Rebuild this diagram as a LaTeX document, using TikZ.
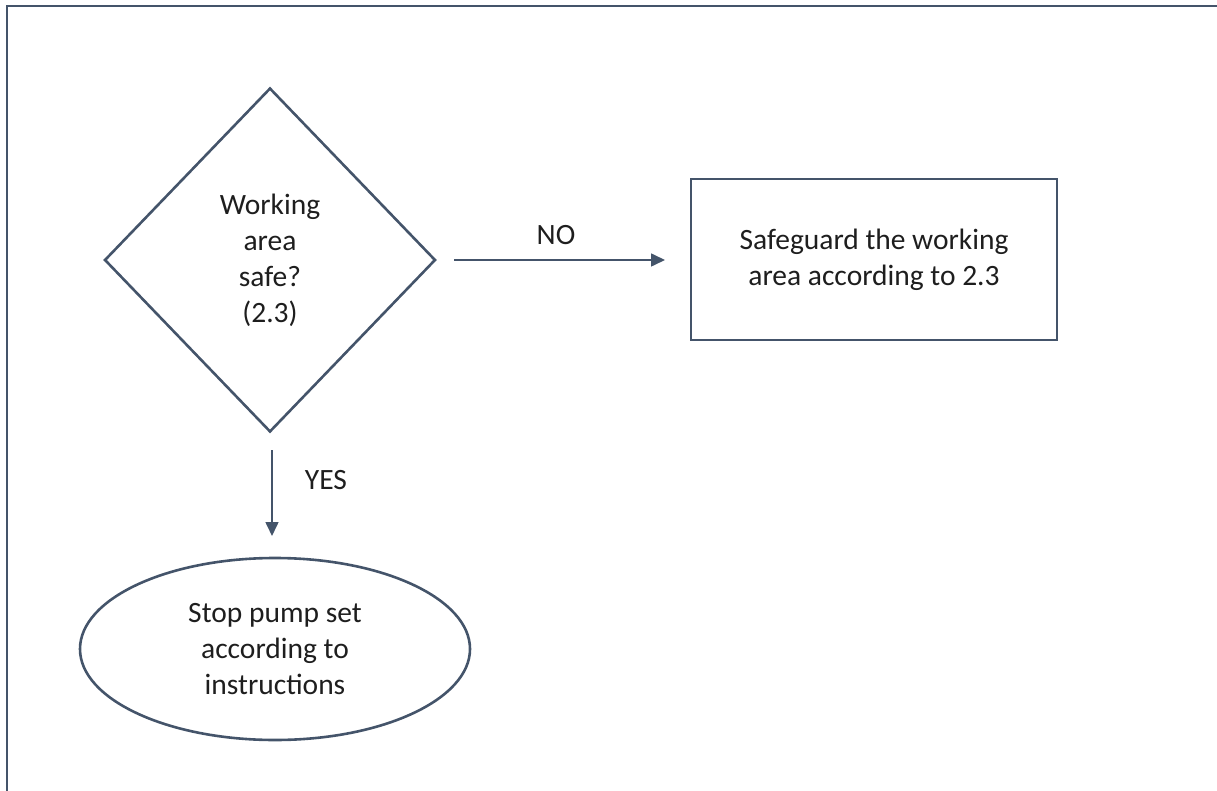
\documentclass[tikz,border=0pt]{standalone}
\usepackage{fontspec}
\setmainfont{Carlito}
\usetikzlibrary{shapes.geometric,arrows.meta}
\definecolor{slate}{HTML}{44546A}
\definecolor{txt}{HTML}{1E1E1E}
\tikzset{
  shp/.style={draw=slate,line width=2.6pt,align=center,text=txt,font=\fontsize{29.5}{36}\selectfont,inner sep=0pt},
  conn/.style={draw=slate,line width=1.6pt,-{Triangle[length=14pt,width=13pt]}},
  lbl/.style={text=txt,font=\fontsize{29.5}{36}\selectfont,inner sep=0pt}
}
\begin{document}
\begin{tikzpicture}[x=1pt,y=-1pt]
\useasboundingbox (0,0) rectangle (1217,791);
\draw[slate,line width=2.6pt] (7,791) -- (7,6) -- (1217,6);
\node[shp,diamond,minimum width=331pt,minimum height=344pt] (dec) at (270,260) {Working\\area\\safe?\\(2.3)};
\node[shp,rectangle,minimum width=366pt,minimum height=161pt] (safe) at (874,259.5) {Safeguard the working\\area according to 2.3};
\node[shp,ellipse,minimum width=390pt,minimum height=182pt] (stop) at (275,649) {Stop pump set\\according to\\instructions};
\coordinate (n1) at (454,260);
\coordinate (n2) at (665,260);
\coordinate (y1) at (272,450);
\coordinate (y2) at (272,536);
\draw[conn] (n1) -- (n2);
\draw[conn] (y1) -- (y2);
\node[lbl] (nol) at (556,235) {NO};
\node[lbl] (yesl) at (326,480) {YES};
\end{tikzpicture}
\end{document}
